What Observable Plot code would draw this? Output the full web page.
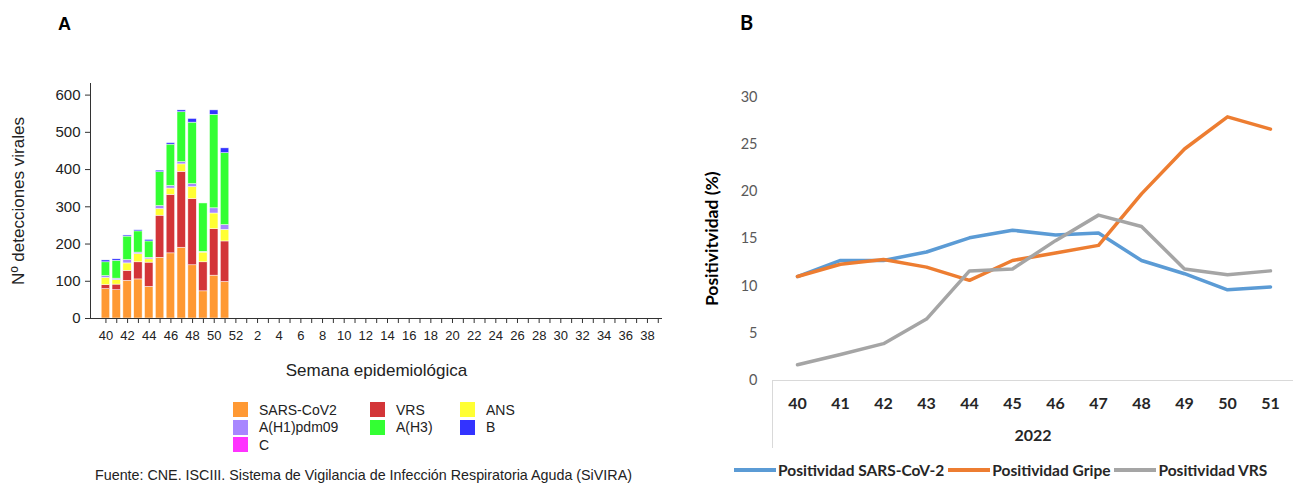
<!DOCTYPE html>
<html>
<head>
<meta charset="utf-8">
<script src="https://cdn.jsdelivr.net/npm/d3@7"></script>
<script src="https://cdn.jsdelivr.net/npm/@observablehq/plot@0.6"></script>
<style>
  body { margin: 0; background: #fff; }
  #root { position: relative; width: 1293px; height: 483px; overflow: hidden; background: #fff; }
  .abs { position: absolute; }
  .panel-a { font-family: "Liberation Sans", Arial, sans-serif; color: #222; }
  .panel-b { font-family: Lato, "Open Sans", sans-serif; color: #262626; }
  .tag { font-weight: bold; font-size: 18px; color: #000; }
  .legA { display: grid; grid-template-columns: 137px 90px 120px; row-gap: 2.5px; font-size: 14px; }
  .legA .item { display: flex; align-items: center; height: 15px; }
  .legA .sw { width: 15px; height: 15px; margin-right: 11px; flex: none; }
  .legB { display: flex; align-items: center; font-size: 15.5px; font-weight: bold; white-space: nowrap; }
  .legB .ln { display: inline-block; width: 42px; height: 4px; margin-right: 2px; }
  .legB .it { display: flex; align-items: center; margin-right: 4px; }
</style>
</head>
<body>
<div id="root">
  <div class="abs panel-a tag" style="left:58px;top:14px;">A</div>
  <div class="abs panel-b tag" style="left:740px;top:10px;font-size:20px;">B</div>
  <div id="chartA" class="abs" style="left:0;top:0;"></div>
  <div id="legendA" class="abs panel-a legA" style="left:233px;top:402px;"></div>
  <div id="caption" class="abs panel-a" style="left:95px;top:467px;font-size:14.3px;color:#222;white-space:nowrap;"></div>
  <div id="chartB" class="abs" style="left:700px;top:0;"></div>
  <div id="legendB" class="abs panel-b legB" style="left:734px;top:461px;"></div>
</div>
<script>
// ---- Panel A: viral detections per epidemiological week (stacked) ----
const weeks = ["40", "41", "42", "43", "44", "45", "46", "47", "48", "49", "50", "51"];
const sarsCov2 = [79, 76, 101, 105, 85, 163, 175, 190, 143, 73, 115, 98];
const vrs      = [11, 15, 27, 46, 65, 113, 157, 204, 178, 78, 125, 109];
const ans      = [19, 12, 20, 22, 9, 18, 17, 20, 32, 26, 42, 31];
const h1pdm09  = [5, 4, 9, 4, 4, 8, 7, 6, 8, 2, 14, 13];
const h3       = [37, 48, 63, 57, 44, 91, 111, 134, 165, 130, 251, 193];
const fluB     = [5, 4, 3, 3, 4, 4, 4, 5, 10, 0, 12, 13];
const fluC     = [0, 0, 0, 0, 0, 0, 0, 0, 0, 0, 0, 0];

const virusNames  = ["SARS-CoV2", "VRS", "ANS", "A(H1)pdm09", "A(H3)", "B", "C"];
const virusColors = ["#FF9933", "#D33538", "#FFFF33", "#A887FF", "#33FF33", "#3333FF", "#FF33FF"];
const virusSeries = [sarsCov2, vrs, ans, h1pdm09, h3, fluB, fluC];

// full season axis: week 40 to week 39 of the following year
const seasonWeeks = ["40","41","42","43","44","45","46","47","48","49","50","51","52",
  "1","2","3","4","5","6","7","8","9","10","11","12","13","14","15","16","17","18","19",
  "20","21","22","23","24","25","26","27","28","29","30","31","32","33","34","35","36","37","38","39"];
const labelledWeeks = ["40","42","44","46","48","50","52","2","4","6","8","10","12","14","16",
  "18","20","22","24","26","28","30","32","34","36","38"];
const yTicksA = [0, 100, 200, 300, 400, 500, 600];

const titleXA = "Semana epidemiológica";
const titleYA = "Nº detecciones virales";
const captionText = "Fuente: CNE. ISCIII. Sistema de Vigilancia de Infección Respiratoria Aguda (SiVIRA)";

// ---- Panel B: positivity (%) by week, 2022 ----
const semanas = [40, 41, 42, 43, 44, 45, 46, 47, 48, 49, 50, 51];
const positividadSars  = [11.0, 12.7, 12.7, 13.6, 15.1, 15.9, 15.4, 15.6, 12.7, 11.3, 9.6, 9.9];
const positividadGripe = [11.0, 12.3, 12.8, 12.0, 10.6, 12.7, 13.5, 14.3, 19.75, 24.5, 27.9, 26.6];
const positividadVrs   = [1.66, 2.75, 3.9, 6.5, 11.6, 11.8, 14.8, 17.5, 16.3, 11.8, 11.2, 11.6];
const serieNames  = ["Positividad SARS-CoV-2", "Positividad Gripe", "Positividad VRS"];
const serieColors = ["#5B9BD5", "#ED7D31", "#A5A5A5"];
const serieValues = [positividadSars, positividadGripe, positividadVrs];
const yTicksB = [0, 5, 10, 15, 20, 25, 30];
const yearLabel = "2022";
const titleYB = "Positivitvidad (%)";

// long table for the stacked bars (stack order follows virusNames)
const detections = [];
virusNames.forEach((virus, k) => {
  weeks.forEach((semana, i) => detections.push({semana, virus, n: virusSeries[k][i]}));
});

const chartA = Plot.plot({
  width: 680,
  height: 400,
  marginLeft: 90,
  marginRight: 18,
  marginTop: 83,
  marginBottom: 82,
  x: {type: "band", domain: seasonWeeks, range: [101.2, 662], paddingInner: 0.22, paddingOuter: 0},
  y: {domain: [0, 600], range: [318, 94.6]},
  color: {domain: virusNames, range: virusColors},
  style: {fontFamily: '"Liberation Sans", Arial, sans-serif', color: "#222", background: "transparent"},
  marks: [
    Plot.barY(detections, {x: "semana", y: "n", fill: "virus", stroke: "#ffffff", strokeWidth: 0.6, strokeOpacity: 0.8}),
    Plot.frame({anchor: "left", stroke: "#333"}),
    Plot.ruleY([0], {stroke: "#333"}),
    Plot.axisY({ticks: yTicksA, tickSize: 5, tickPadding: 5, fontSize: 15, label: null, stroke: "#333"}),
    Plot.axisX({tickSize: 5, tickPadding: 7, fontSize: 13, label: null, stroke: "#333",
      tickFormat: d => labelledWeeks.includes(d) ? d : ""}),
    Plot.text([titleXA], {frameAnchor: "bottom", dy: 57, fontSize: 17, fill: "#222"}),
    Plot.text([titleYA], {frameAnchor: "left", dx: -72, rotate: -90, textAnchor: "middle", fontSize: 17, fill: "#222"})
  ]
});
document.getElementById("chartA").append(chartA);

// legend of panel A
const legendA = document.getElementById("legendA");
virusNames.forEach((name, k) => {
  const item = document.createElement("div");
  item.className = "item";
  const sw = document.createElement("span");
  sw.className = "sw";
  sw.style.background = virusColors[k];
  item.append(sw, document.createTextNode(name));
  legendA.append(item);
});
document.getElementById("caption").textContent = captionText;

// long table for the positivity lines
const positividad = [];
serieNames.forEach((serie, k) => {
  semanas.forEach((semana, i) => positividad.push({semana, serie, valor: serieValues[k][i]}));
});

const chartB = Plot.plot({
  width: 593,
  height: 483,
  marginLeft: 72,
  marginRight: 0,
  marginTop: 380,
  marginBottom: 36,
  x: {type: "point", domain: semanas, range: [94, 572], padding: 0, axis: null},
  y: {domain: [0, 30], range: [380, 96.5], axis: null},
  color: {domain: serieNames, range: serieColors},
  style: {fontFamily: 'Lato, "Open Sans", sans-serif', color: "#262626", background: "transparent"},
  marks: [
    Plot.frame({anchor: "top", stroke: "#d9d9d9"}),
    Plot.frame({anchor: "left", stroke: "#d9d9d9"}),
    Plot.axisY({ticks: yTicksB, tickSize: 0, tickPadding: 15, fontSize: 14.5, fill: "#595959", label: null}),
    Plot.text(semanas, {x: d => d, text: d => String(d), frameAnchor: "top", dy: 17,
      fontSize: 16, fontWeight: "bold", fill: "#262626"}),
    Plot.text([yearLabel], {frameAnchor: "bottom", dy: -7, fontSize: 16, fontWeight: "bold", fill: "#262626"}),
    Plot.text([titleYB], {frameAnchor: "left", y: (yTicksB[0] + yTicksB[yTicksB.length - 1]) / 2,
      dx: -60, rotate: -90, textAnchor: "middle", fontSize: 17.5, fontWeight: "bold", fill: "#000"}),
    Plot.line(positividad, {x: "semana", y: "valor", z: "serie", stroke: "serie",
      strokeWidth: 3.5, strokeLinejoin: "round", strokeLinecap: "round"})
  ]
});
document.getElementById("chartB").append(chartB);

// legend of panel B
const legendB = document.getElementById("legendB");
serieNames.forEach((name, k) => {
  const item = document.createElement("span");
  item.className = "it";
  const ln = document.createElement("span");
  ln.className = "ln";
  ln.style.background = serieColors[k];
  item.append(ln, document.createTextNode(name));
  legendB.append(item);
});
</script>
</body>
</html>
